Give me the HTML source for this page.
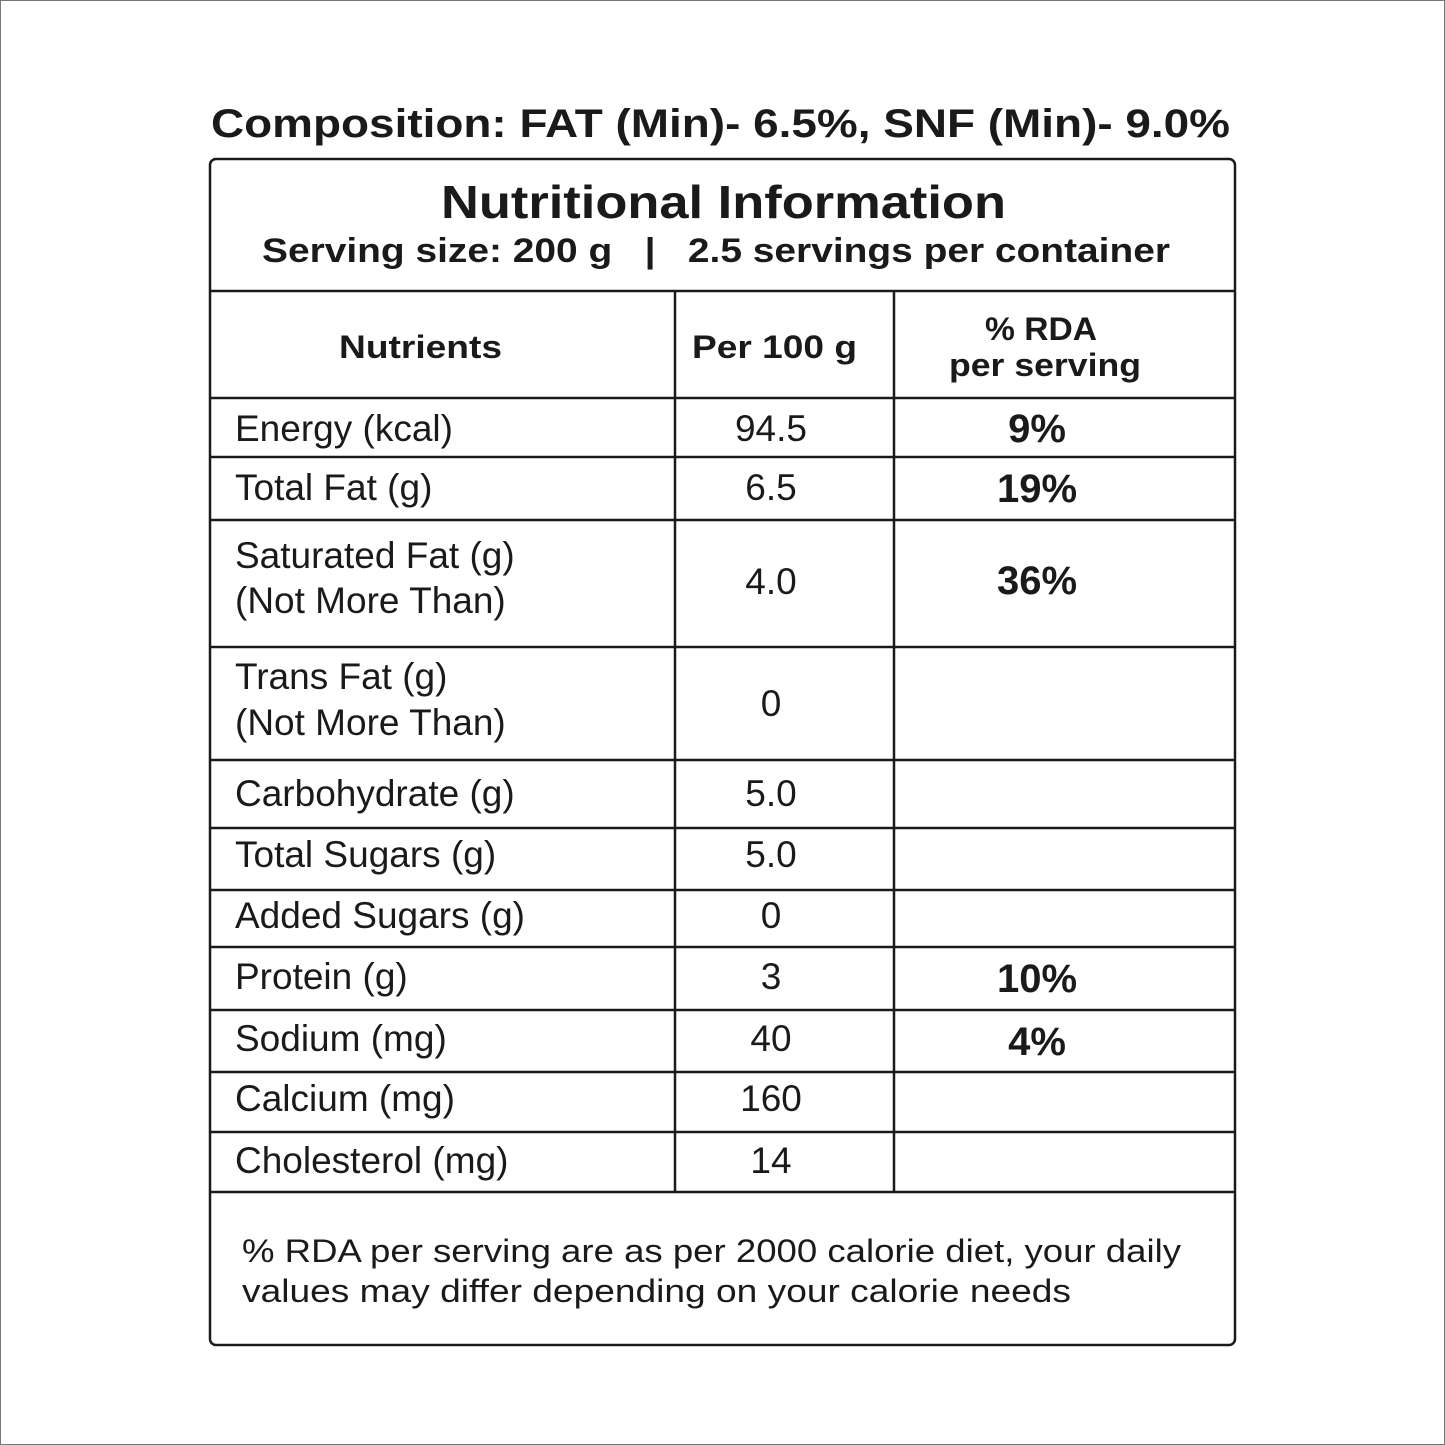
<!DOCTYPE html>
<html><head><meta charset="utf-8"><style>
html,body{margin:0;padding:0;background:#fff}
svg{display:block}
text{font-family:"Liberation Sans",sans-serif;fill:#1a1a1a}
.b{font-weight:bold}
</style></head><body>
<svg width="1445" height="1445" viewBox="0 0 1445 1445" xmlns="http://www.w3.org/2000/svg">
<rect x="0.5" y="0.5" width="1444" height="1444" fill="#fff" stroke="#777" stroke-width="1"/>
<text x="211" y="137" font-size="40" class="b" textLength="1019" lengthAdjust="spacingAndGlyphs">Composition: FAT (Min)- 6.5%, SNF (Min)- 9.0%</text>
<rect x="210" y="159" width="1025" height="1186" rx="6" fill="none" stroke="#1a1a1a" stroke-width="2.5"/>
<text x="441" y="218" font-size="46" class="b" textLength="565" lengthAdjust="spacingAndGlyphs">Nutritional Information</text>
<text x="262" y="262" font-size="34" class="b" textLength="908" lengthAdjust="spacingAndGlyphs" xml:space="preserve">Serving size: 200 g   |   2.5 servings per container</text>
<g stroke="#1a1a1a" stroke-width="2.5">
<line x1="210" y1="291" x2="1235" y2="291"/>
<line x1="210" y1="398" x2="1235" y2="398"/>
<line x1="210" y1="457" x2="1235" y2="457"/>
<line x1="210" y1="520" x2="1235" y2="520"/>
<line x1="210" y1="647" x2="1235" y2="647"/>
<line x1="210" y1="760" x2="1235" y2="760"/>
<line x1="210" y1="828" x2="1235" y2="828"/>
<line x1="210" y1="890" x2="1235" y2="890"/>
<line x1="210" y1="947" x2="1235" y2="947"/>
<line x1="210" y1="1010" x2="1235" y2="1010"/>
<line x1="210" y1="1072" x2="1235" y2="1072"/>
<line x1="210" y1="1132" x2="1235" y2="1132"/>
<line x1="210" y1="1192" x2="1235" y2="1192"/>
<line x1="675" y1="291" x2="675" y2="1192"/>
<line x1="894" y1="291" x2="894" y2="1192"/>
</g>
<g class="b" font-size="32">
<text x="339" y="358" textLength="163" lengthAdjust="spacingAndGlyphs" class="b">Nutrients</text>
<text x="692" y="358" textLength="165" lengthAdjust="spacingAndGlyphs" class="b">Per 100 g</text>
<text x="985" y="340" textLength="112" lengthAdjust="spacingAndGlyphs" class="b">% RDA</text>
<text x="949" y="376" textLength="192" lengthAdjust="spacingAndGlyphs" class="b">per serving</text>
</g>
<g font-size="37">
<text x="235" y="441">Energy (kcal)</text>
<text x="235" y="500">Total Fat (g)</text>
<text x="235" y="568">Saturated Fat (g)</text>
<text x="235" y="613">(Not More Than)</text>
<text x="235" y="689">Trans Fat (g)</text>
<text x="235" y="735">(Not More Than)</text>
<text x="235" y="806">Carbohydrate (g)</text>
<text x="235" y="867">Total Sugars (g)</text>
<text x="235" y="928">Added Sugars (g)</text>
<text x="235" y="989">Protein (g)</text>
<text x="235" y="1051">Sodium (mg)</text>
<text x="235" y="1111">Calcium (mg)</text>
<text x="235" y="1173">Cholesterol (mg)</text>
</g>
<g font-size="37" text-anchor="middle">
<text x="771" y="441">94.5</text>
<text x="771" y="500">6.5</text>
<text x="771" y="594">4.0</text>
<text x="771" y="716">0</text>
<text x="771" y="806">5.0</text>
<text x="771" y="867">5.0</text>
<text x="771" y="928">0</text>
<text x="771" y="989">3</text>
<text x="771" y="1051">40</text>
<text x="771" y="1111">160</text>
<text x="771" y="1173">14</text>
</g>
<g font-size="40" text-anchor="middle" class="b">
<text x="1037" y="442" class="b">9%</text>
<text x="1037" y="502" class="b">19%</text>
<text x="1037" y="594" class="b">36%</text>
<text x="1037" y="992" class="b">10%</text>
<text x="1037" y="1055" class="b">4%</text>
</g>
<text x="242" y="1262" font-size="32" textLength="939" lengthAdjust="spacingAndGlyphs">% RDA per serving are as per 2000 calorie diet, your daily</text>
<text x="242" y="1302" font-size="32" textLength="829" lengthAdjust="spacingAndGlyphs">values may differ depending on your calorie needs</text>
</svg>
</body></html>
